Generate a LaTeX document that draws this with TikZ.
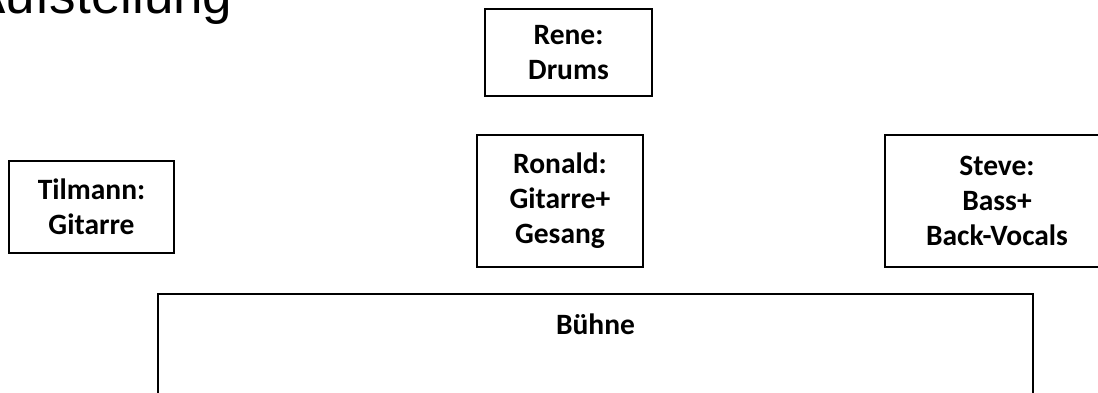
\documentclass[tikz,border=0pt]{standalone}
\usepackage{fontspec}
\setmainfont{Carlito}
\newfontfamily\titlefont{Liberation Sans}
\usepackage{tikz}

\begin{document}
\begin{tikzpicture}[x=1pt, y=1pt,
    box/.style={rectangle, draw, line width=1.5pt, align=center, inner sep=0pt,
        font=\fontsize{29.5}{35}\selectfont\bfseries}
	]
		\useasboundingbox (0,0) rectangle (1098,-392);

		\node[anchor=base east, font=\fontsize{53}{60}\selectfont\titlefont] (title) at (236,-13) {Aufstellung};

		\node[box, minimum width=166pt, minimum height=132pt] (ronald) at (560,-201) {
			Ronald:\\ Gitarre+\\ Gesang
		};

		\node[box, minimum width=167pt, minimum height=87pt, above of=ronald, node distance=148.5pt, xshift=8.5pt] (rene) {
			Rene:\\ Drums
		};

		\node[box, minimum width=165pt, minimum height=92pt, left of=ronald, node distance=468.5pt, yshift=-6pt] (tilmann) {
			Tilmann:\\ Gitarre
		};

		\node[box, minimum width=224pt, minimum height=132pt, right of=ronald, node distance=437pt] (steve) {
			Steve:\\ Bass+\\ Back-Vocals
		};

		\node[box, minimum width=875pt, minimum height=140pt, anchor=north,
			label={[box, draw=none, anchor=north, yshift=-20pt]north:Bühne}] (buehne) at (595.5,-293) {};

	\end{tikzpicture}
\end{document}
